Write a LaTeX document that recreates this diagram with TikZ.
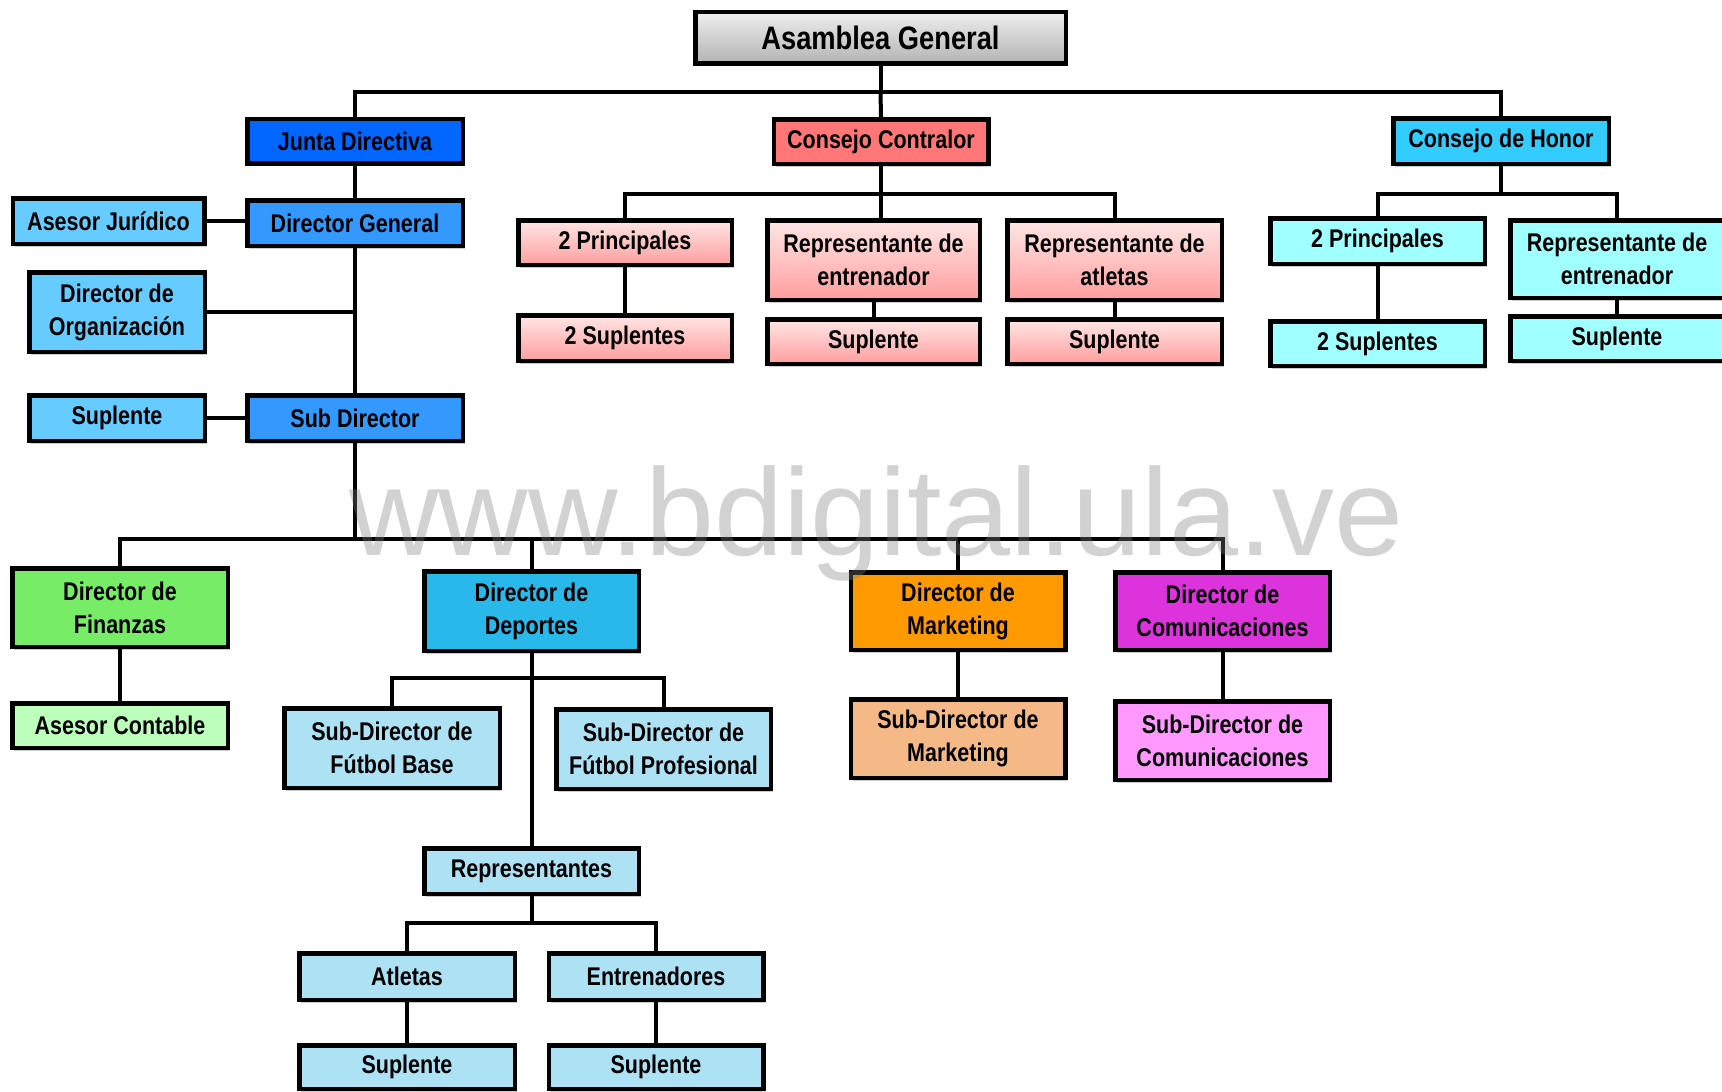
\documentclass[tikz,border=0pt]{standalone}
\usepackage{fontspec}
\usetikzlibrary{shadows}
\newfontfamily\bxf{Liberation Sans}[FakeStretch=0.84]
\newfontfamily\wmf{Liberation Sans}
\definecolor{cJunta}{RGB}{0,102,255}
\definecolor{cDir}{RGB}{51,153,255}
\definecolor{cSide}{RGB}{102,204,255}
\definecolor{cCC}{RGB}{255,119,119}
\definecolor{cPinkT}{RGB}{255,230,230}
\definecolor{cPinkB}{RGB}{255,158,158}
\definecolor{cCH}{RGB}{51,204,255}
\definecolor{cCHl}{RGB}{160,255,255}
\definecolor{cFin}{RGB}{119,236,102}
\definecolor{cAC}{RGB}{187,255,187}
\definecolor{cDep}{RGB}{41,184,234}
\definecolor{cLB}{RGB}{173,226,245}
\definecolor{cMkt}{RGB}{255,153,0}
\definecolor{cSMkt}{RGB}{245,185,135}
\definecolor{cCom}{RGB}{221,51,221}
\definecolor{cSCom}{RGB}{255,153,255}
\definecolor{cGrT}{RGB}{238,238,238}
\definecolor{cGrB}{RGB}{180,180,180}
\tikzset{
  box/.style={draw=black, line width=4.5pt, inner sep=0pt, align=center,
    font=\bxf\bfseries\fontsize{25.6}{33}\selectfont, text=black,
    drop shadow={shadow xshift=2pt, shadow yshift=-3pt, opacity=0.2, fill=black}},
  sz/.style 2 args={minimum width=#1pt-4.5pt, minimum height=#2pt-4.5pt},
  pink/.style={top color=cPinkT, bottom color=cPinkB},
  conn/.style={draw=black, line width=4pt},
}
\begin{document}
\begin{tikzpicture}[x=1pt,y=-1pt]
\useasboundingbox (0,0) rectangle (1722,1092);
\fill[white] (0,0) rectangle (1722,1092);
% bus levels
\coordinate (busA) at (0,92);
\coordinate (busC) at (0,194);
\coordinate (busL) at (0,539);
\coordinate (busD) at (0,678);
\coordinate (busR) at (0,923);
% top
\node[box, sz={375}{56}, top color=cGrT, bottom color=cGrB, font=\bxf\bfseries\fontsize{32.5}{38}\selectfont] (ag) at (880.5,37.5) {Asamblea General};
\node[box, sz={220}{49}, fill=cJunta] (jd) at (355,141) {Junta Directiva};
\node[box, sz={219}{49}, fill=cCC] (cc) at (881,141.5) {Consejo Contralor};
\node[box, sz={220}{50}, fill=cCH] (ch) at (1501,141) {Consejo de Honor};
% junta side
\node[box, sz={196}{50}, fill=cSide] (aj) at (108.5,221) {Asesor Jurídico};
\node[box, sz={220}{50}, fill=cDir] (dg) at (355,223) {Director General};
\node[box, sz={180}{84}, fill=cSide] (org) at (117,312) {Director de\\Organización};
\node[box, sz={180}{50}, fill=cSide] (sl) at (117,418) {Suplente};
\node[box, sz={220}{50}, fill=cDir] (sd) at (355,418) {Sub Director};
% contralor
\node[box, sz={218}{49}, pink] (p2) at (625,242.5) {2 Principales};
\node[box, sz={218}{50}, pink] (s2) at (625,338) {2 Suplentes};
\node[box, sz={217}{84}, pink] (re) at (873.5,260) {Representante de\\entrenador};
\node[box, sz={217}{49}, pink] (sre) at (873.5,341.5) {Suplente};
\node[box, sz={219}{84}, pink] (ra) at (1114.5,260) {Representante de\\atletas};
\node[box, sz={219}{49}, pink] (sra) at (1114.5,341.5) {Suplente};
% honor
\node[box, sz={219}{50}, fill=cCHl] (hp) at (1377.5,241) {2 Principales};
\node[box, sz={219}{49}, fill=cCHl] (hs) at (1377.5,343.5) {2 Suplentes};
\node[box, sz={218}{82}, fill=cCHl] (hr) at (1617,259) {Representante de\\entrenador};
\node[box, sz={218}{49}, fill=cCHl] (hsu) at (1617,338.5) {Suplente};
% lower
\node[box, sz={220}{83}, fill=cFin] (fin) at (120,607.5) {Director de\\Finanzas};
\node[box, sz={220}{49}, fill=cAC] (ac) at (120,725.5) {Asesor Contable};
\node[box, sz={219}{84}, fill=cDep] (dep) at (531.5,611) {Director de\\Deportes};
\node[box, sz={219}{82}, fill=cMkt] (mkt) at (958,611) {Director de\\Marketing};
\node[box, sz={219}{82}, fill=cCom] (com) at (1222.5,611) {Director de\\Comunicaciones};
\node[box, sz={219}{83}, fill=cSMkt] (smk) at (958,738.5) {Sub-Director de\\Marketing};
\node[box, sz={219}{83}, fill=cSCom] (scm) at (1222.5,740.5) {Sub-Director de\\Comunicaciones};
\node[box, sz={220}{84}, fill=cLB] (fb) at (392,748) {Sub-Director de\\Fútbol Base};
\node[box, sz={219}{84}, fill=cLB] (fp) at (663.5,749) {Sub-Director de\\Fútbol Profesional};
\node[box, sz={219}{50}, fill=cLB] (rep) at (531.5,871) {Representantes};
\node[box, sz={220}{51}, fill=cLB] (at) at (407,976.5) {Atletas};
\node[box, sz={219}{51}, fill=cLB] (en) at (656,976.5) {Entrenadores};
\node[box, sz={220}{48}, fill=cLB] (sa) at (407,1067) {Suplente};
\node[box, sz={219}{48}, fill=cLB] (se) at (656,1067) {Suplente};
% connectors
\draw[conn] (ag.south) -- (ag.south |- busA);
\draw[conn] (jd.north) |- (ch.north |- busA) -- (ch.north);
\draw[conn] (ag.south |- busA) -- (cc.north);
\draw[conn] (jd.south) -- (dg.north);
\draw[conn] (dg.south) -- (sd.north);
\draw[conn] (aj.east) -- (aj.east -| dg.west);
\draw[conn] (org.east) -- (org.east -| dg.south);
\draw[conn] (sl.east) -- (sd.west);
\draw[conn] (sd.south) -- (sd.south |- busL);
% contralor
\draw[conn] (cc.south) -- (cc.south |- re.north);
\draw[conn] (p2.north) |- (ra.north |- busC) -- (ra.north);
\draw[conn] (p2.south) -- (s2.north);
\draw[conn] (re.south) -- (sre.north);
\draw[conn] (ra.south) -- (sra.north);
% honor
\draw[conn] (ch.south) -- (ch.south |- busC);
\draw[conn] (hp.north) |- (hr.north |- busC) -- (hr.north);
\draw[conn] (hp.south) -- (hs.north);
\draw[conn] (hr.south) -- (hsu.north);
% lower bus
\draw[conn] (fin.north) |- (com.north |- busL) -- (com.north);
\draw[conn] (dep.north) -- (dep.north |- busL);
\draw[conn] (mkt.north) -- (mkt.north |- busL);
\draw[conn] (fin.south) -- (ac.north);
\draw[conn] (mkt.south) -- (smk.north);
\draw[conn] (com.south) -- (scm.north);
% deportes
\draw[conn] (dep.south) -- (rep.north);
\draw[conn] (fb.north) |- (fp.north |- busD) -- (fp.north);
\draw[conn] (rep.south) -- (rep.south |- busR);
\draw[conn] (at.north) |- (en.north |- busR) -- (en.north);
\draw[conn] (at.south) -- (sa.north);
\draw[conn] (en.south) -- (se.north);
% watermark
\node[anchor=base west, inner sep=0pt, text=black!50, opacity=0.35, font=\wmf\fontsize{124}{130}\selectfont] (wm) at (349,555) {www.bdigital.ula.ve};
\end{tikzpicture}
\end{document}
